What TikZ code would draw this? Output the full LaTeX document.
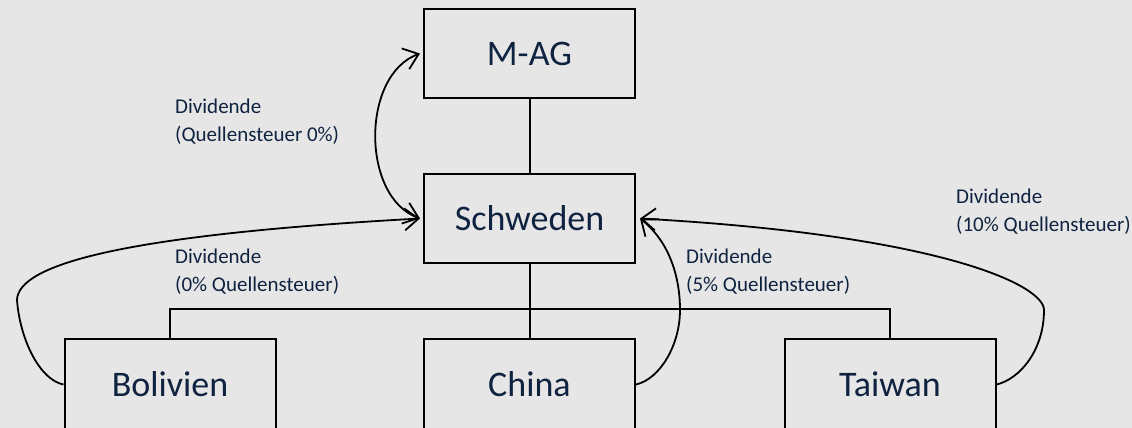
\documentclass[tikz,border=0pt]{standalone}
\usepackage{fontspec}
\setmainfont{Carlito}
\usetikzlibrary{arrows.meta}
\definecolor{bgcol}{HTML}{E6E6E6}
\definecolor{ink}{HTML}{0F2340}
\begin{document}
\begin{tikzpicture}[x=1pt,y=-1pt,
  entity/.style={draw=black, line width=2pt, minimum width=211pt, minimum height=89pt,
    inner sep=0pt, text=ink, font=\fontsize{36}{42}\selectfont},
  bottombox/.style={entity, minimum height=91pt},
  link/.style={draw=black, line width=2pt},
  flow/.style={draw=black, line width=1.8pt, -{Straight Barb[length=14pt,width=22pt]}},
  note/.style={anchor=base west, align=left, inner sep=0pt, text=ink,
    font=\fontsize{21}{27.5}\selectfont}]
  % canvas
  \fill[bgcol] (0,0) rectangle (1132,428);
  \useasboundingbox (0,0) rectangle (1132,428);
  \clip (0,0) rectangle (1132,428);

  % entities
  \node[entity] (mag) at (529.5,53.5) {M-AG};
  \node[entity] (sch) at (529.5,218.5) {Schweden};
  \node[bottombox] (bol) at (170,384.5) {Bolivien};
  \node[bottombox] (chn) at (529.5,384.5) {China};
  \node[bottombox] (tai) at (890,384.5) {Taiwan};

  % ownership lines
  \coordinate (busL) at (170,309);
  \coordinate (busR) at (890,309);
  \draw[link] (mag.south) -- (sch.north);
  \draw[link] (sch.south) -- (chn.north);
  \draw[link] (bol.north) -- (busL) -- (busR) -- (tai.north);

  % dividend flows
  \draw[flow, {Straight Barb[length=14pt,width=22pt]}-{Straight Barb[length=14pt,width=22pt]}]
    ([xshift=-3pt]sch.west) .. controls (361,197) and (361,75) .. ([xshift=-3pt]mag.west);
  \coordinate (b1) at (17,300);
  \draw[flow] (bol.west) .. controls (40,380) and (20,340) .. (b1)
    .. controls (18,265) and (120,235) .. ([xshift=-3pt]sch.west);
  \coordinate (c1) at (680,310);
  \draw[flow] (chn.east) .. controls (660,379) and (680,345) .. (c1)
    .. controls (680,270) and (665,238) .. ([xshift=4pt]sch.east);
  \coordinate (t1) at (1044,310);
  \draw[flow] (tai.east) .. controls (1020,379) and (1044,350) .. (t1)
    .. controls (1044,285) and (940,235) .. ([xshift=4pt]sch.east);

  % labels (anchored at the baseline of their second line)
  \node[note] (n1) at (175,141) {Dividende\\(Quellensteuer 0\%)};
  \node[note] (n2) at (175,291) {Dividende\\(0\% Quellensteuer)};
  \node[note] (n3) at (686,291) {Dividende\\(5\% Quellensteuer)};
  \node[note] (n4) at (956,231) {Dividende\\(10\% Quellensteuer)};
\end{tikzpicture}
\end{document}
